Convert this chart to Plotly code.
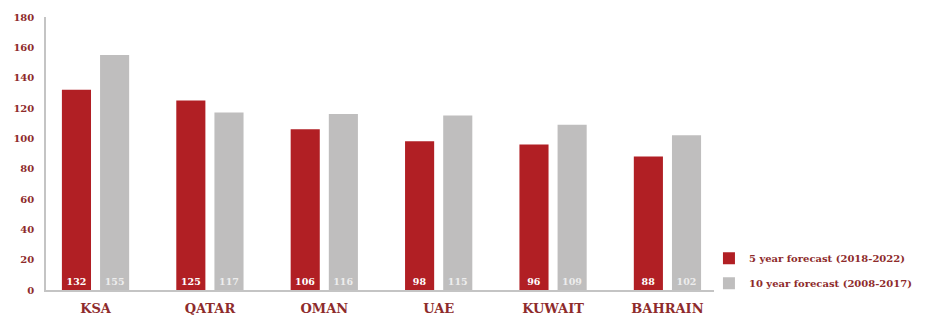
import plotly.graph_objects as go

categories = ["KSA", "QATAR", "OMAN", "UAE", "KUWAIT", "BAHRAIN"]
forecast_5yr = [132, 125, 106, 98, 96, 88]
forecast_10yr = [155, 117, 116, 115, 109, 102]
series_names = ["5 year forecast (2018-2022)", "10 year forecast (2008-2017)"]
y_ticks = [0, 20, 40, 60, 80, 100, 120, 140, 160, 180]

RED = "#B11F24"
GREY = "#BFBEBE"
TXT = "#8E2B2B"
FONT = "DejaVu Serif"

fig = go.Figure()
fig.add_trace(go.Bar(
    x=categories, y=forecast_5yr, name=series_names[0], legendgroup="a",
    marker=dict(color=RED, line=dict(width=0)),
    text=[str(v) for v in forecast_5yr], textposition="inside",
    insidetextanchor="start", textangle=0, constraintext="none",
    textfont=dict(family=FONT, size=9.5, color="#FFFFFF", weight="bold"),
))
fig.add_trace(go.Bar(
    x=categories, y=forecast_10yr, name=series_names[1], legendgroup="b",
    marker=dict(color=GREY, line=dict(width=0)),
    text=[str(v) for v in forecast_10yr], textposition="inside",
    insidetextanchor="start", textangle=0, constraintext="none",
    textfont=dict(family=FONT, size=9.5, color="#EDEDED", weight="bold"),
))

fig.update_layout(
    width=917, height=310,
    margin=dict(l=38, r=211, t=9, b=28, autoexpand=False),
    paper_bgcolor="white", plot_bgcolor="white",
    barmode="group", bargap=0.333, bargroupgap=0.237,
    font=dict(family=FONT, color=TXT),
    showlegend=True,
    legend=dict(
        xref="container", yref="container", x=0.7644, y=0.2397,
        xanchor="left", yanchor="top",
        font=dict(family=FONT, size=10, color=TXT, weight="bold"),
        tracegroupgap=6, traceorder="grouped",
        bgcolor="rgba(0,0,0,0)",
    ),
    xaxis=dict(
        type="category", range=[-0.433, 5.407], automargin=False,
        showline=True, linecolor="#C4C4C4", linewidth=1.5,
        showgrid=False, ticks="",
        tickfont=dict(family=FONT, size=13, color=TXT, weight="bold"),
        ticklabelstandoff=6,
    ),
    yaxis=dict(
        range=[0, 180], tickvals=y_ticks, automargin=False,
        showline=True, linecolor="#C4C4C4", linewidth=1.5,
        showgrid=False, zeroline=False, ticks="",
        tickfont=dict(family=FONT, size=10, color=TXT, weight="bold"),
        ticklabelstandoff=8,
    ),
)

fig.write_html("out.html")
